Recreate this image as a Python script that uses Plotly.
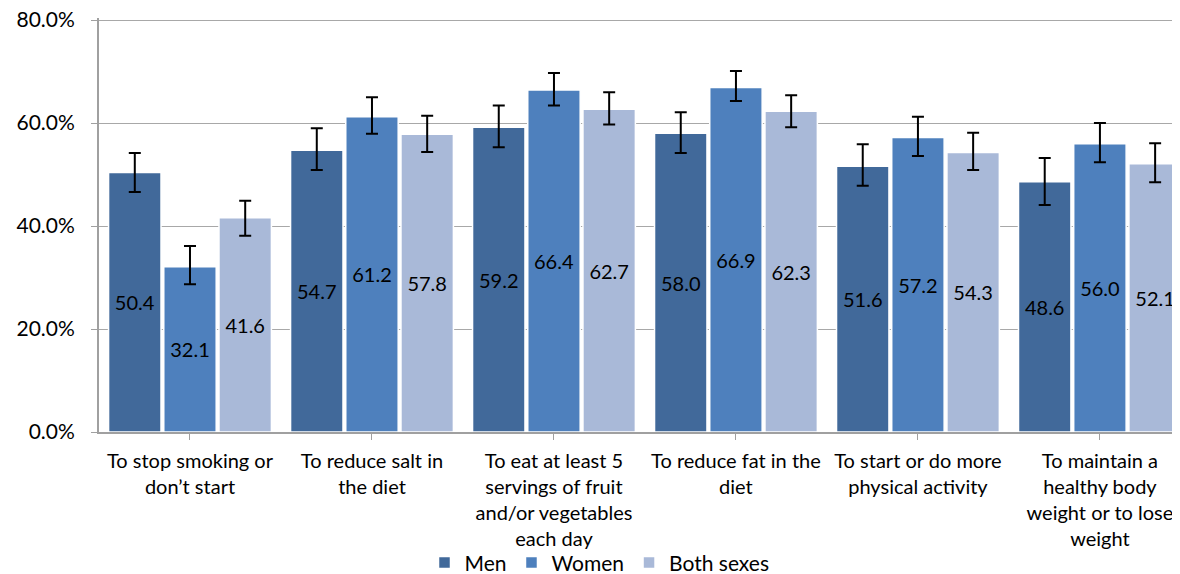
import plotly.graph_objects as go

categories = [
    "To stop smoking or<br>don’t start",
    "To reduce salt in<br>the diet",
    "To eat at least 5<br>servings of fruit<br>and/or vegetables<br>each day",
    "To reduce fat in the<br>diet",
    "To start or do more<br>physical activity",
    "To maintain a<br>healthy body<br>weight or to lose<br>weight",
]
series_names = ["Men", "Women", "Both sexes"]
men = [50.4, 54.7, 59.2, 58.0, 51.6, 48.6]
women = [32.1, 61.2, 66.4, 66.9, 57.2, 56.0]
both = [41.6, 57.8, 62.7, 62.3, 54.3, 52.1]
men_hi = [54.2, 59.0, 63.4, 62.1, 55.9, 53.2]
men_lo = [46.6, 50.9, 55.3, 54.2, 47.8, 44.1]
women_hi = [36.1, 65.0, 69.7, 70.1, 61.2, 60.0]
women_lo = [28.7, 57.9, 63.4, 64.3, 53.6, 52.4]
both_hi = [44.9, 61.4, 66.0, 65.4, 58.1, 56.1]
both_lo = [38.1, 54.4, 59.7, 59.2, 50.9, 48.5]
tick_vals = [0, 20, 40, 60, 80]
tick_text = ["0.0%", "20.0%", "40.0%", "60.0%", "80.0%"]

colors = ["#41699A", "#4E80BD", "#A9B9D8"]
FONT = "Lato"

fig = go.Figure()
for name, vals, hi, lo, col in zip(
    series_names, [men, women, both], [men_hi, women_hi, both_hi],
    [men_lo, women_lo, both_lo], colors
):
    fig.add_trace(go.Bar(
        name=name,
        x=list(range(len(categories))),
        y=vals,
        marker=dict(color=col, line=dict(color="white", width=1.5)),
        text=[f"{v:.1f}" for v in vals],
        textposition="inside",
        insidetextanchor="middle",
        textangle=0,
        textfont=dict(family=FONT, size=20, color="black"),
        error_y=dict(
            type="data", symmetric=False,
            array=[h - v for h, v in zip(hi, vals)],
            arrayminus=[v - l for l, v in zip(lo, vals)],
            color="black", thickness=2, width=6,
        ),
    ))

fig.update_layout(
    width=1172, height=566,
    margin=dict(l=91, r=0, t=10, b=142, autoexpand=False),
    paper_bgcolor="white", plot_bgcolor="white",
    barmode="group", bargap=0.09, bargroupgap=0.05,
    font=dict(family=FONT, size=20, color="black"),
    legend=dict(
        orientation="h", x=0.463, xanchor="center", y=-0.316, yanchor="middle",
        font=dict(family=FONT, size=21, color="black"),
        bgcolor="rgba(0,0,0,0)",
        itemwidth=30, traceorder="normal",
    ),
    uniformtext=dict(mode=False),
)
fig.update_xaxes(
    tickmode="array",
    tickvals=list(range(len(categories))),
    ticktext=categories,
    range=[-0.5, 5.44],
    tickson="boundaries",
    ticks="outside", ticklen=6, tickcolor="#A0A0A0",
    showline=True, linecolor="#A0A0A0", linewidth=2,
    showgrid=False, automargin=False,
    ticklabelstandoff=4, ticklabeloverflow="allow",
    tickfont=dict(family=FONT, size=20),
)
fig.update_yaxes(
    range=[0, 80.4],
    tickmode="array", tickvals=tick_vals, ticktext=tick_text,
    ticks="outside", ticklen=6, tickcolor="#A0A0A0",
    showline=True, linecolor="#A0A0A0", linewidth=2,
    showgrid=True, gridcolor="#A8A8A8", gridwidth=1,
    zeroline=False, automargin=False,
    ticklabelstandoff=12, ticklabeloverflow="allow",
    tickfont=dict(family=FONT, size=21),
)

fig.write_html("out.html")
